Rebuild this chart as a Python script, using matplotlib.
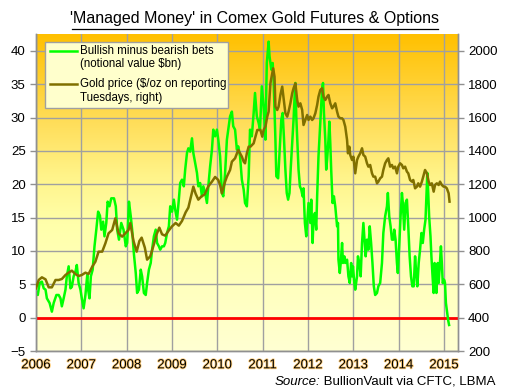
import matplotlib
matplotlib.use("Agg")
import matplotlib.pyplot as plt
import matplotlib.patheffects as pe
from matplotlib.colors import LinearSegmentedColormap
from matplotlib.patches import Rectangle
from matplotlib.lines import Line2D
import numpy as np

plt.rcParams['font.family'] = ['Liberation Sans', 'DejaVu Sans']

# managed money net long, notional $bn (left axis)
bets_year = [
    2006.00, 2006.04, 2006.08, 2006.13, 2006.17, 2006.21, 2006.24, 2006.30, 2006.35, 2006.39,
    2006.45, 2006.50, 2006.54, 2006.57, 2006.61, 2006.65, 2006.68, 2006.72, 2006.76, 2006.79,
    2006.83, 2006.87, 2006.90, 2006.94, 2006.98, 2007.01, 2007.05, 2007.09, 2007.13, 2007.15,
    2007.18, 2007.21, 2007.25, 2007.29, 2007.33, 2007.37, 2007.41, 2007.44, 2007.48, 2007.51,
    2007.55, 2007.58, 2007.62, 2007.66, 2007.72, 2007.76, 2007.79, 2007.83, 2007.88, 2007.93,
    2007.98, 2008.01, 2008.05, 2008.09, 2008.12, 2008.16, 2008.20, 2008.23, 2008.27, 2008.31,
    2008.34, 2008.38, 2008.42, 2008.45, 2008.49, 2008.53, 2008.56, 2008.60, 2008.64, 2008.67,
    2008.71, 2008.74, 2008.78, 2008.82, 2008.85, 2008.89, 2008.93, 2008.96, 2009.00, 2009.04,
    2009.07, 2009.11, 2009.15, 2009.18, 2009.22, 2009.26, 2009.29, 2009.33, 2009.36, 2009.40,
    2009.44, 2009.47, 2009.51, 2009.55, 2009.58, 2009.62, 2009.66, 2009.69, 2009.73, 2009.77,
    2009.80, 2009.84, 2009.88, 2009.91, 2009.95, 2009.99, 2010.02, 2010.06, 2010.10, 2010.13,
    2010.17, 2010.21, 2010.24, 2010.28, 2010.32, 2010.35, 2010.39, 2010.43, 2010.46, 2010.50,
    2010.54, 2010.58, 2010.61, 2010.65, 2010.69, 2010.72, 2010.76, 2010.80, 2010.83, 2010.87,
    2010.91, 2010.94, 2010.98, 2011.02, 2011.06, 2011.07, 2011.09, 2011.13, 2011.15, 2011.19,
    2011.22, 2011.24, 2011.28, 2011.30, 2011.34, 2011.37, 2011.41, 2011.44, 2011.47, 2011.50,
    2011.53, 2011.56, 2011.59, 2011.62, 2011.65, 2011.68, 2011.70, 2011.72, 2011.74, 2011.77,
    2011.79, 2011.82, 2011.85, 2011.88, 2011.90, 2011.93, 2011.96, 2011.99, 2012.01, 2012.05,
    2012.07, 2012.10, 2012.12, 2012.15, 2012.18, 2012.20, 2012.23, 2012.27, 2012.31, 2012.33,
    2012.35, 2012.38, 2012.40, 2012.42, 2012.45, 2012.47, 2012.49, 2012.51, 2012.54, 2012.57,
    2012.60, 2012.62, 2012.64, 2012.66, 2012.67, 2012.70, 2012.72, 2012.75, 2012.77, 2012.80,
    2012.82, 2012.86, 2012.89, 2012.92, 2012.95, 2012.97, 2012.99, 2013.02, 2013.04, 2013.08,
    2013.10, 2013.13, 2013.16, 2013.19, 2013.22, 2013.25, 2013.27, 2013.30, 2013.33, 2013.36,
    2013.39, 2013.42, 2013.45, 2013.48, 2013.52, 2013.55, 2013.59, 2013.63, 2013.66, 2013.70,
    2013.74, 2013.76, 2013.79, 2013.82, 2013.85, 2013.88, 2013.90, 2013.93, 2013.96, 2013.98,
    2014.01, 2014.04, 2014.07, 2014.09, 2014.12, 2014.15, 2014.18, 2014.21, 2014.24, 2014.27,
    2014.30, 2014.33, 2014.36, 2014.38, 2014.41, 2014.44, 2014.47, 2014.50, 2014.53, 2014.56,
    2014.59, 2014.61, 2014.63, 2014.65, 2014.67, 2014.70, 2014.72, 2014.75, 2014.77, 2014.79,
    2014.81, 2014.83, 2014.86, 2014.88, 2014.90, 2014.93, 2014.95, 2014.97, 2015.00, 2015.02,
    2015.04, 2015.07, 2015.09, 2015.11]
bets_bn = [
    3.9, 3.4, 5.2, 5.4, 4.4, 4.2, 2.9, 2.2, 0.9, 2.2,
    3.4, 3.4, 2.9, 1.7, 2.9, 4.2, 6.2, 7.7, 4.4, 4.6,
    6.2, 6.9, 7.9, 5.2, 4.2, 2.9, 1.4, 3.4, 6.4, 4.2,
    2.9, 6.2, 7.2, 10.7, 13.2, 15.9, 15.3, 13.2, 14.4, 12.2,
    14.2, 17.4, 16.7, 17.9, 17.9, 16.7, 13.2, 11.7, 14.2, 13.2,
    10.7, 11.2, 17.4, 15.2, 13.2, 9.5, 6.7, 3.7, 4.2, 7.2,
    6.2, 3.7, 3.4, 5.2, 7.2, 8.2, 10.2, 12.2, 13.2, 11.2,
    10.7, 10.2, 10.7, 10.7, 11.2, 12.7, 13.7, 16.7, 15.9, 17.7,
    16.2, 14.7, 17.7, 20.2, 20.7, 19.7, 22.2, 24.7, 25.4, 24.9,
    26.9, 24.7, 23.2, 21.7, 19.7, 20.2, 18.2, 19.7, 18.7, 17.2,
    19.7, 22.7, 25.2, 28.2, 27.2, 28.2, 26.7, 24.2, 18.7, 18.2,
    21.7, 26.7, 28.2, 30.2, 30.9, 28.7, 28.2, 25.2, 25.7, 24.2,
    20.7, 19.2, 17.2, 16.7, 21.2, 28.2, 27.2, 30.7, 33.7, 30.2,
    29.2, 28.2, 34.7, 31.7, 26.7, 31.2, 38.2, 41.4, 39.2, 37.2,
    38.2, 35.7, 26.7, 21.2, 20.9, 24.7, 29.7, 30.7, 26.7, 22.2,
    18.7, 17.7, 18.7, 22.7, 26.2, 29.7, 32.7, 35.2, 30.2, 25.2,
    22.2, 19.7, 19.2, 18.2, 19.4, 14.2, 12.2, 15.2, 17.2, 14.2,
    17.7, 11.2, 14.7, 15.7, 13.2, 18.2, 24.2, 29.2, 34.4, 35.2,
    30.7, 26.7, 22.2, 23.7, 26.7, 29.4, 26.2, 22.2, 17.2, 18.2,
    16.7, 15.2, 13.7, 14.2, 8.7, 6.7, 8.2, 11.2, 8.2, 9.2,
    8.2, 8.7, 6.2, 5.2, 8.2, 6.2, 7.7, 5.2, 4.2, 6.2,
    9.2, 8.2, 6.2, 11.2, 14.2, 11.2, 9.2, 11.7, 10.2, 13.7,
    11.2, 8.2, 4.7, 3.4, 3.7, 4.7, 5.2, 8.2, 12.7, 15.2,
    16.7, 18.7, 15.2, 13.7, 11.7, 11.7, 13.2, 11.7, 8.2, 6.7,
    10.7, 15.2, 18.7, 17.2, 13.2, 17.2, 17.7, 13.7, 9.2, 6.2,
    4.7, 4.7, 9.2, 7.2, 4.7, 8.2, 10.2, 12.7, 11.2, 13.2,
    14.7, 18.2, 21.7, 18.7, 15.2, 12.2, 9.2, 5.7, 3.7, 8.2,
    7.2, 3.7, 8.2, 5.2, 7.2, 10.7, 8.2, 5.2, 5.7, 5.2,
    2.2, 0.7, -0.4, -1.1]

# gold price $/oz on reporting Tuesdays (right axis)
gold_year = [
    2006.00, 2006.06, 2006.13, 2006.21, 2006.28, 2006.35, 2006.43, 2006.50, 2006.57, 2006.65,
    2006.72, 2006.79, 2006.87, 2006.94, 2007.01, 2007.09, 2007.16, 2007.24, 2007.31, 2007.38,
    2007.46, 2007.53, 2007.60, 2007.68, 2007.75, 2007.82, 2007.90, 2007.97, 2008.04, 2008.08,
    2008.15, 2008.22, 2008.28, 2008.33, 2008.40, 2008.45, 2008.52, 2008.60, 2008.66, 2008.72,
    2008.78, 2008.85, 2008.92, 2009.00, 2009.08, 2009.15, 2009.22, 2009.30, 2009.36, 2009.42,
    2009.47, 2009.52, 2009.58, 2009.65, 2009.72, 2009.80, 2009.88, 2009.95, 2010.02, 2010.06,
    2010.10, 2010.17, 2010.21, 2010.28, 2010.32, 2010.39, 2010.46, 2010.54, 2010.58, 2010.61,
    2010.65, 2010.69, 2010.73, 2010.80, 2010.88, 2010.95, 2010.99, 2011.02, 2011.06, 2011.10,
    2011.13, 2011.17, 2011.21, 2011.23, 2011.26, 2011.28, 2011.32, 2011.35, 2011.39, 2011.43,
    2011.46, 2011.50, 2011.54, 2011.57, 2011.61, 2011.65, 2011.68, 2011.72, 2011.76, 2011.79,
    2011.83, 2011.87, 2011.90, 2011.94, 2011.98, 2012.01, 2012.05, 2012.09, 2012.12, 2012.16,
    2012.20, 2012.23, 2012.27, 2012.31, 2012.34, 2012.38, 2012.42, 2012.45, 2012.49, 2012.53,
    2012.56, 2012.60, 2012.64, 2012.67, 2012.71, 2012.75, 2012.78, 2012.82, 2012.86, 2012.88,
    2012.91, 2012.93, 2012.97, 2013.00, 2013.04, 2013.08, 2013.11, 2013.15, 2013.19, 2013.22,
    2013.26, 2013.30, 2013.33, 2013.37, 2013.41, 2013.44, 2013.48, 2013.52, 2013.55, 2013.59,
    2013.63, 2013.66, 2013.70, 2013.74, 2013.77, 2013.81, 2013.85, 2013.88, 2013.92, 2013.96,
    2013.99, 2014.03, 2014.07, 2014.10, 2014.14, 2014.18, 2014.21, 2014.25, 2014.29, 2014.32,
    2014.36, 2014.40, 2014.43, 2014.47, 2014.51, 2014.54, 2014.58, 2014.62, 2014.66, 2014.69,
    2014.73, 2014.77, 2014.80, 2014.84, 2014.88, 2014.91, 2014.95, 2014.99, 2015.02, 2015.06,
    2015.10, 2015.12]
gold_usd = [
    576, 626, 642, 630, 582, 582, 626, 626, 632, 656,
    670, 682, 662, 650, 656, 670, 662, 706, 736, 796,
    796, 846, 906, 926, 996, 906, 886, 906, 926, 968,
    860, 796, 860, 880, 820, 748, 768, 840, 900, 940,
    900, 892, 920, 948, 968, 952, 980, 1032, 1060, 1128,
    1186, 1144, 1108, 1128, 1140, 1188, 1216, 1244, 1226, 1196,
    1146, 1216, 1246, 1286, 1336, 1356, 1406, 1366, 1336, 1326,
    1386, 1426, 1426, 1446, 1526, 1526, 1486, 1526, 1546, 1606,
    1636, 1806, 1866, 1896, 1846, 1666, 1646, 1666, 1736, 1786,
    1716, 1626, 1606, 1636, 1686, 1746, 1776, 1806, 1706, 1666,
    1686, 1646, 1556, 1586, 1616, 1586, 1606, 1586, 1596, 1626,
    1676, 1726, 1766, 1776, 1726, 1706, 1726, 1736, 1686, 1656,
    1666, 1686, 1636, 1606, 1596, 1596, 1586, 1546, 1466, 1386,
    1426, 1376, 1346, 1366, 1266, 1346, 1366, 1386, 1416, 1376,
    1366, 1326, 1306, 1316, 1266, 1246, 1246, 1206, 1216, 1236,
    1246, 1286, 1326, 1346, 1356, 1306, 1316, 1296, 1306, 1266,
    1306, 1326, 1316, 1296, 1306, 1276, 1266, 1226, 1216, 1226,
    1176, 1186, 1206, 1186, 1216, 1246, 1286, 1266, 1216, 1196,
    1206, 1156, 1196, 1206, 1196, 1216, 1196, 1186, 1186, 1176,
    1146, 1096]

year_ticks = [2006, 2007, 2008, 2009, 2010, 2011, 2012, 2013, 2014, 2015]

fig = plt.figure(figsize=(5.11, 3.91), dpi=100)
ax = fig.add_axes([36/511, 1 - 351/391, (457.7 - 36)/511, (351 - 34.3)/391])

# background gradient, orange at top fading to pale yellow
grad_cmap = LinearSegmentedColormap.from_list(
    'bg', [(0.0, '#FFFFD2'), (0.40, '#FFFFAA'), (0.55, '#FFF48A'),
           (0.72, '#FFDE5A'), (1.0, '#FFC000')])
grad = np.linspace(0, 1, 256).reshape(-1, 1)
ax.imshow(grad, cmap=grad_cmap, extent=[0, 1, 0, 1], transform=ax.transAxes,
          aspect='auto', origin='lower', zorder=0)

ax.set_xlim(2006, 2015.30)
ax.set_ylim(-5, 42.5)
ax.set_xticks(year_ticks)
ax.set_xticklabels([str(y) for y in year_ticks])
ax.set_yticks(range(-5, 41, 5))
ax.grid(True, color='#A0A0A0', linewidth=1.0)
ax.set_axisbelow(False)
for gl in ax.get_xgridlines() + ax.get_ygridlines():
    gl.set_zorder(1)

ax.axhline(0, color='#FF0000', linewidth=2.0, zorder=3)
ax.plot(bets_year, bets_bn, color='#00FF00', linewidth=1.8, zorder=4)

ax2 = ax.twinx()
ax2.set_ylim(200, 2100)
ax2.set_yticks(range(200, 2001, 200))
ax2.plot(gold_year, gold_usd, color='#807000', linewidth=1.8, zorder=5)

for a in (ax, ax2):
    a.spines['top'].set_visible(False)
    for s in ('left', 'right', 'bottom'):
        a.spines[s].set_color('#909090')
        a.spines[s].set_linewidth(1.0)
    a.tick_params(axis='y', colors='#909090', labelcolor='black', labelsize=9.5,
                  length=4, width=1)
ax.tick_params(axis='x', length=0, labelsize=9.5, pad=6)
for lab in ax.get_xticklabels():
    lab.set_path_effects([pe.withStroke(linewidth=1.2, foreground='#FFCE7A')])

# legend box drawn in axes coordinates
w_ax = 457.7 - 36
h_ax = 351 - 34.3
def to_ax(px, py):
    return (px - 36) / w_ax, (351 - py) / h_ax
x0, y0 = to_ax(45, 108)
x1, y1 = to_ax(228, 42)
ax2.add_patch(Rectangle((x0, y0), x1 - x0, y1 - y0, transform=ax2.transAxes,
                        facecolor='#FFFFCC', edgecolor='#A0A0A0', linewidth=1, zorder=6))
for py, col in ((51, '#00FF00'), (84, '#807000')):
    lx0, ly = to_ax(50, py)
    lx1, _ = to_ax(77, py)
    ax2.add_line(Line2D([lx0, lx1], [ly, ly], transform=ax2.transAxes, color=col,
                        linewidth=1.8, zorder=7))
for py, txt in ((51, 'Bullish minus bearish bets'), (64, '(notional value $bn)'),
                (84, 'Gold price ($/oz on reporting'), (98, 'Tuesdays, right)')):
    tx, ty = to_ax(80, py)
    ax2.text(tx, ty, txt.replace('$', r'\$'), transform=ax2.transAxes, fontsize=8.3,
             va='center', ha='left', zorder=8)

fig.text(255 / 511, 1 - 19 / 391, "'Managed Money' in Comex Gold Futures & Options",
         ha='center', va='center', fontsize=11.5)
fig.add_artist(Line2D([72 / 511, 438 / 511], [1 - 29 / 391, 1 - 29 / 391],
                      transform=fig.transFigure, color='black', linewidth=0.9))

# source line: italic "Source:" then plain text
src = fig.text(496 / 511, 1 - 382 / 391, ' BullionVault via CFTC, LBMA',
               ha='right', va='center', fontsize=9.5)
fig.canvas.draw()
bb = src.get_window_extent(renderer=fig.canvas.get_renderer())
fig.text(bb.x0 / fig.bbox.width, 1 - 382 / 391, 'Source:', ha='right', va='center',
         fontsize=9.5, style='italic')

fig.savefig('out.png', dpi=100)
